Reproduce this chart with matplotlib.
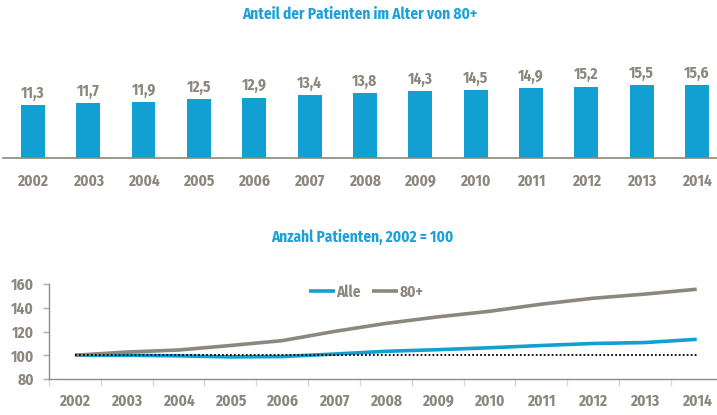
import matplotlib
matplotlib.use("Agg")
import matplotlib.pyplot as plt
from matplotlib import font_manager, transforms

years = ["2002", "2003", "2004", "2005", "2006", "2007", "2008",
         "2009", "2010", "2011", "2012", "2013", "2014"]
share_80 = [11.3, 11.7, 11.9, 12.5, 12.9, 13.4, 13.8, 14.3, 14.5, 14.9, 15.2, 15.5, 15.6]
idx_alle = [100, 100.0, 99.5, 98.6, 98.9, 101.0, 103.3, 104.7, 106.3, 108.2, 109.9, 110.7, 113.4]
idx_80 = [100, 102.7, 104.4, 108.2, 112.3, 120.0, 126.8, 132.3, 137.0, 143.0, 148.0, 151.5, 155.6]
baseline = [100] * len(years)
y_ticks = [80, 100, 120, 140, 160]

title1 = "Anteil der Patienten im Alter von 80+"
title2 = "Anzahl Patienten, 2002 = 100"

BLUE = "#129fd2"
TITLE_BLUE = "#1ba1d8"
GRAY = "#8b877c"
LINE_GRAY = "#8c887f"

names = {f.name for f in font_manager.fontManager.ttflist}
fam = "DejaVu Sans"
for cand in ["Fira Sans Condensed", "Liberation Sans Narrow", "Roboto Condensed"]:
    if cand in names:
        fam = cand
        break
FAMS = [fam, "DejaVu Sans"]
plt.rcParams["font.family"] = FAMS
plt.rcParams["font.weight"] = "bold"

W, H = 717, 415
fig = plt.figure(figsize=(W / 100, H / 100), dpi=100)

x = list(range(len(years)))


def year_labels(ax, offset_px):
    tr = transforms.offset_copy(ax.get_xaxis_transform(), fig=fig, x=0,
                                y=-offset_px * 72 / 100, units="points")
    for xi, lab in zip(x, years):
        ax.text(xi, 0, lab, transform=tr, ha="center", va="baseline",
                fontsize=11, color=GRAY, fontweight="bold", clip_on=False)


# ---- Bar chart ----
ax1 = fig.add_axes([3 / W, 1 - 158 / H, 714 / W, 94 / H])
ax1.bar(x, share_80, width=0.43, color=BLUE, zorder=2)
ax1.set_xlim(-0.54, 12.36)
ax1.set_ylim(0, 94 / 4.68)
for xi, v in zip(x, share_80):
    ax1.text(xi, v + 1.6, f"{v:.1f}".replace(".", ","), ha="center", va="baseline",
             fontsize=11, color=GRAY, fontweight="bold")
for s in ["top", "right", "left"]:
    ax1.spines[s].set_visible(False)
ax1.spines["bottom"].set_color(GRAY)
ax1.spines["bottom"].set_linewidth(1.2)
ax1.set_yticks([])
ax1.set_xticks([])
year_labels(ax1, 28)
fig.text(360 / W, 1 - 14 / H, title1, ha="center", va="center",
         fontsize=11, color=TITLE_BLUE, fontweight="bold")

# ---- Line chart ----
ax2 = fig.add_axes([49 / W, 1 - 379 / H, 673.6 / W, 95 / H])
ax2.plot(x, baseline, color="black", linestyle=(0, (1, 1.2)), linewidth=1.3, zorder=3)
ax2.plot(x, idx_alle, color=BLUE, linewidth=2.6, label="Alle", solid_capstyle="butt", zorder=2)
ax2.plot(x, idx_80, color=LINE_GRAY, linewidth=2.6, label="80+", solid_capstyle="butt", zorder=2)
ax2.set_xlim(-0.5, 12.5)
ax2.set_ylim(80, 160)
ax2.set_yticks(y_ticks)
ax2.set_yticklabels([str(t) for t in y_ticks], fontsize=11, color=GRAY, fontweight="bold")
ax2.set_xticks([])
ax2.set_xticks([i + 0.5 for i in range(-1, 13)], minor=True)
ax2.tick_params(axis="x", which="minor", length=5, color="#d8d6d0", width=1)
ax2.tick_params(axis="y", length=4, color="#b0ada5", width=1, pad=7)
year_labels(ax2, 27)
for s in ["top", "right"]:
    ax2.spines[s].set_visible(False)
for s in ["left", "bottom"]:
    ax2.spines[s].set_color("#8f8b80")
    ax2.spines[s].set_linewidth(1.0)
leg = ax2.legend(loc="center", bbox_to_anchor=((366 - 49) / 673.6, (379 - 292) / 95), ncol=2,
                 frameon=False, handlelength=1.7, handletextpad=0.1, columnspacing=0.7,
                 borderpad=0, prop={"size": 11, "weight": "bold", "family": FAMS})
for t in leg.get_texts():
    t.set_color(GRAY)
fig.text(362 / W, 1 - 237 / H, title2, ha="center", va="center",
         fontsize=11, color=TITLE_BLUE, fontweight="bold")

fig.savefig("out.png", dpi=100)
